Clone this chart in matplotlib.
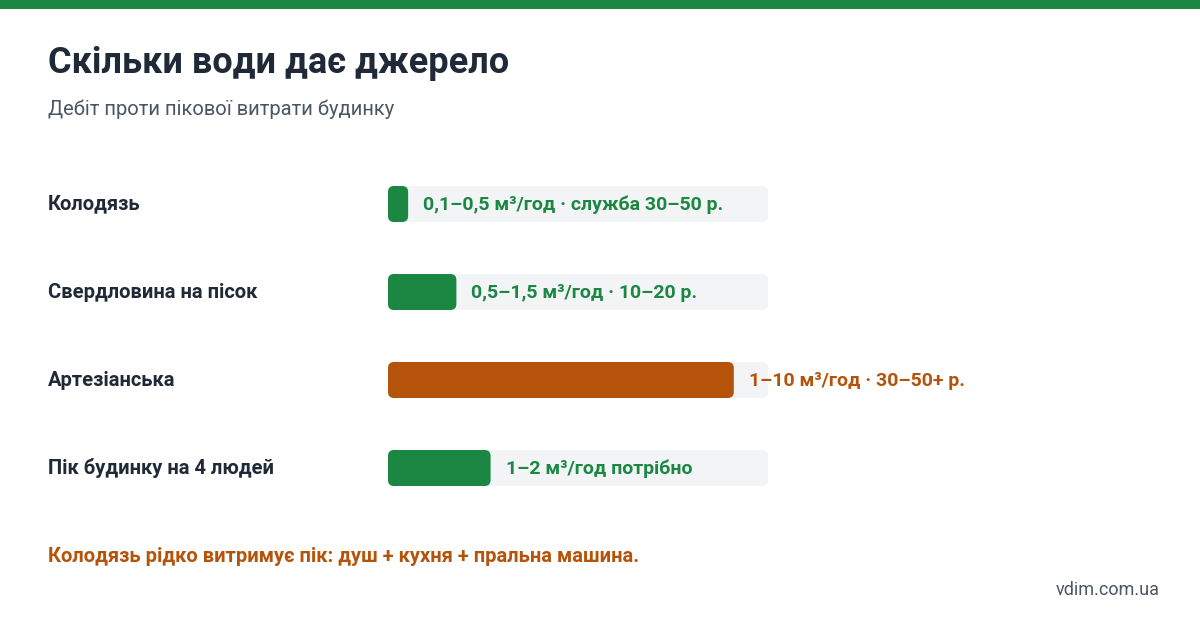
import matplotlib.pyplot as plt
from matplotlib.patches import FancyBboxPatch, Rectangle

plt.rcParams["font.family"] = ["Roboto", "DejaVu Sans"]

title = "Скільки води дає джерело"
subtitle = "Дебіт проти пікової витрати будинку"
categories = ["Колодязь", "Свердловина на пісок", "Артезіанська", "Пік будинку на 4 людей"]
fractions = [0.053, 0.18, 0.91, 0.27]
value_labels = ["0,1–0,5 м³/год · служба 30–50 р.",
                "0,5–1,5 м³/год · 10–20 р.",
                "1–10 м³/год · 30–50+ р.",
                "1–2 м³/год потрібно"]
bar_colors = ["#1b8743", "#1b8743", "#b5530a", "#1b8743"]
note = "Колодязь рідко витримує пік: душ + кухня + пральна машина."
source = "vdim.com.ua"

fig = plt.figure(figsize=(12, 6.2), dpi=100)
ax = fig.add_axes([0, 0, 1, 1])
ax.set_xlim(0, 1200)
ax.set_ylim(620, 0)
ax.axis("off")

ax.add_patch(Rectangle((0, 0), 1200, 9, color="#1b8743", lw=0))
ax.text(48, 63, title, fontsize=26, fontweight="bold", color="#1f2937", va="center")
ax.text(48, 109, subtitle, fontsize=14.5, color="#4b5563", va="center")

track_x, track_w, bar_h = 388, 380, 36
for i, (cat, frac, lab, col) in enumerate(zip(categories, fractions, value_labels, bar_colors)):
    yc = 204 + i * 88
    ax.text(48, yc, cat, fontsize=14.5, fontweight="bold", color="#1f2937", va="center")
    ax.add_patch(FancyBboxPatch((track_x, yc - bar_h / 2), track_w, bar_h,
                                boxstyle="round,pad=0,rounding_size=6",
                                fc="#f3f4f6", ec="none"))
    w = frac * track_w
    ax.add_patch(FancyBboxPatch((track_x, yc - bar_h / 2), w, bar_h,
                                boxstyle="round,pad=0,rounding_size=6",
                                fc=col, ec="none"))
    ax.text(track_x + w + 15, yc + 1, lab, fontsize=14, fontweight="bold", color=col, va="center")

ax.text(48, 557, note, fontsize=14.5, fontweight="bold", color="#b5530a", va="center")
ax.text(1160, 590, source, fontsize=13, color="#4b5563", va="center", ha="right")

fig.savefig("out.png", dpi=100, facecolor="white")
